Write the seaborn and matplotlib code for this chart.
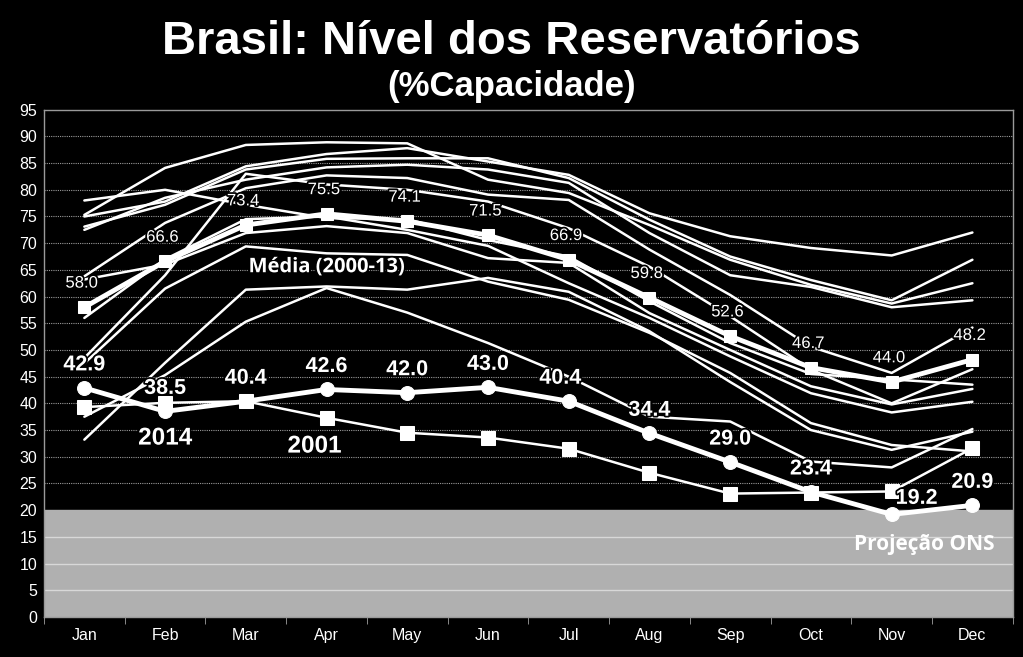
import pandas as pd
import matplotlib.pyplot as plt
import matplotlib.patheffects as pe
import seaborn as sns
import numpy as np

months = ['Jan', 'Feb', 'Mar', 'Apr', 'May', 'Jun', 'Jul', 'Aug', 'Sep', 'Oct', 'Nov', 'Dec']

# historical years 2000-2013 (thin lines, except 2001 which is highlighted)
y_a = [75.3, 84.1, 88.4, 88.9, 88.7, 81.9, 79.4, 73.4, 66.9, 62.2, 58.7, 62.5]
y_b = [75.0, 77.8, 84.4, 86.7, 87.8, 85.3, 82.8, 75.6, 71.3, 69.1, 67.7, 72.0]
y_c = [73.1, 77.2, 83.8, 85.8, 85.9, 85.9, 82.2, 74.4, 67.5, 63.1, 59.3, 66.9]
y_d = [72.5, 78.5, 81.9, 84.2, 84.7, 83.8, 81.3, 71.9, 64.0, 61.8, 58.0, 59.3]
y_e = [78.0, 80.0, 77.2, 74.7, 74.5, 70.6, 67.5, 59.1, 51.3, 45.5, 44.5, 43.5]
y_f = [63.8, 73.8, 80.3, 82.7, 82.2, 79.1, 78.1, 68.8, 60.3, 50.6, 45.7, 54.2]
y_g = [63.2, 66.0, 71.9, 73.2, 71.9, 67.2, 66.3, 56.9, 50.0, 43.2, 39.8, 42.7]
y_h = [56.0, 67.0, 74.5, 75.0, 72.5, 69.5, 62.5, 56.0, 48.8, 41.9, 38.3, 40.3]
y_i = [48.5, 64.0, 83.0, 81.0, 80.0, 77.8, 72.8, 65.6, 56.3, 46.3, 40.0, 46.4]
y_j = [47.5, 61.5, 69.4, 68.1, 67.8, 62.8, 59.4, 53.2, 45.7, 36.3, 32.2, 31.0]
y_k = [37.5, 45.3, 55.3, 61.6, 57.0, 51.3, 45.0, 37.5, 36.6, 29.1, 28.0, 35.2]
y_l = [33.2, 47.6, 61.3, 61.9, 61.3, 63.5, 60.9, 53.5, 44.0, 35.0, 31.3, 34.7]

media = [58.0, 66.6, 73.4, 75.5, 74.1, 71.5, 66.9, 59.8, 52.6, 46.7, 44.0, 48.2]
y2014 = [42.9, 38.5, 40.4, 42.6, 42.0, 43.0, 40.4, 34.4, 29.0, 23.4, 19.2, 20.9]
y2001 = [39.3, 40.1, 40.4, 37.3, 34.5, 33.6, 31.5, 27.0, 23.1, 23.3, 23.5, 31.6]

thin = [y_a, y_b, y_c, y_d, y_e, y_f, y_g, y_h, y_i, y_j, y_k, y_l]
thin_df = pd.DataFrame([
    {'serie': n, 'pos': m, 'val': v}
    for n, vals in enumerate(thin) for m, v in enumerate(vals)
])
pos = np.arange(len(months))

sns.set_style('dark')
plt.rcParams['font.family'] = ['Liberation Sans', 'DejaVu Sans']

fig = plt.figure(figsize=(10.23, 6.57), dpi=100, facecolor='black')
ax = fig.add_axes([0.043, 0.061, 0.947, 0.772])
ax.set_facecolor('black')

# gray band for ONS projection zone
ax.axhspan(0, 20, color='#b0b0b0', zorder=0.5)
for yv in range(5, 95, 5):
    if yv < 20:
        ax.axhline(yv, color='#d8d8d8', lw=1, zorder=0.6)
    elif yv > 20:
        ax.axhline(yv, color='#9a9a9a', lw=0.8, ls=(0, (1, 1)), zorder=0.6)

sns.lineplot(data=thin_df, x='pos', y='val', units='serie', estimator=None,
             color='white', lw=1.8, ax=ax, legend=False, zorder=2)

sns.lineplot(x=pos, y=y2001, color='white', lw=1.8, marker='s', markersize=10,
             markeredgecolor='white', ax=ax, zorder=3)
sns.lineplot(x=pos, y=media, color='white', lw=3.5, marker='s', markersize=9,
             markeredgecolor='white', ax=ax, zorder=4)
sns.lineplot(x=pos, y=y2014, color='white', lw=3.5, marker='o', markersize=10,
             markeredgecolor='white', ax=ax, zorder=5)

stroke = [pe.withStroke(linewidth=2.5, foreground='black')]

for x, v in zip(pos, media):
    ax.annotate(f'{v:.1f}', (x, v), xytext=(-2, 12), textcoords='offset points',
                ha='center', va='bottom', color='white', fontsize=12,
                path_effects=stroke, zorder=6)

offs_2014 = [(0, 9), (0, 9), (0, 9), (0, 9), (0, 9), (0, 9), (-6, 9),
             (0, 9), (0, 9), (0, 9), (18, 4), (0, 9)]
for x, v, o in zip(pos, y2014, offs_2014):
    ax.annotate(f'{v:.1f}', (x, v), xytext=o, textcoords='offset points',
                ha='center', va='bottom', color='white', fontsize=15.5,
                fontweight='bold', path_effects=stroke, zorder=6)

ax.text(1.0, 33.5, '2014', color='white', fontsize=17.5, fontweight='bold',
        ha='center', va='center', path_effects=stroke, zorder=6)
ax.text(2.85, 32.0, '2001', color='white', fontsize=17.5, fontweight='bold',
        ha='center', va='center', path_effects=stroke, zorder=6)
ax.text(3.0, 65.5, 'Média (2000-13)', color='white', fontsize=14.5,
        fontweight='bold', family=['Open Sans', 'DejaVu Sans'],
        ha='center', va='center', path_effects=stroke, zorder=6)
ax.text(10.4, 13.6, 'Projeção ONS', color='white', fontsize=15,
        fontweight='bold', family=['Open Sans', 'DejaVu Sans'],
        ha='center', va='center', zorder=6)

ax.set_xlim(-0.5, 11.5)
ax.set_ylim(0, 95)
ax.set_yticks(range(0, 100, 5))
ax.set_xticks(pos)
ax.set_xticklabels(months)
ax.set_xticks(np.arange(-0.5, 12, 1), minor=True)
ax.tick_params(axis='x', which='major', length=0, colors='white', labelsize=11.5, pad=8)
ax.tick_params(axis='x', which='minor', length=5, color='#a0a0a0', bottom=True)
ax.tick_params(axis='y', length=0, colors='white', labelsize=11.5, pad=5, left=False)
ax.set_xlabel('')
ax.set_ylabel('')
ax.grid(False)
for side in ['top', 'right', 'left', 'bottom']:
    ax.spines[side].set_visible(True)
    ax.spines[side].set_color('#9a9a9a')
    ax.spines[side].set_linewidth(1)

fig.text(0.5, 0.936, 'Brasil: Nível dos Reservatórios', color='white',
         fontsize=34, fontweight='bold', ha='center', va='center')
fig.text(0.5, 0.868, '(%Capacidade)', color='white', fontsize=25,
         fontweight='bold', ha='center', va='center')

plt.savefig('out.png', dpi=100, facecolor='black')
